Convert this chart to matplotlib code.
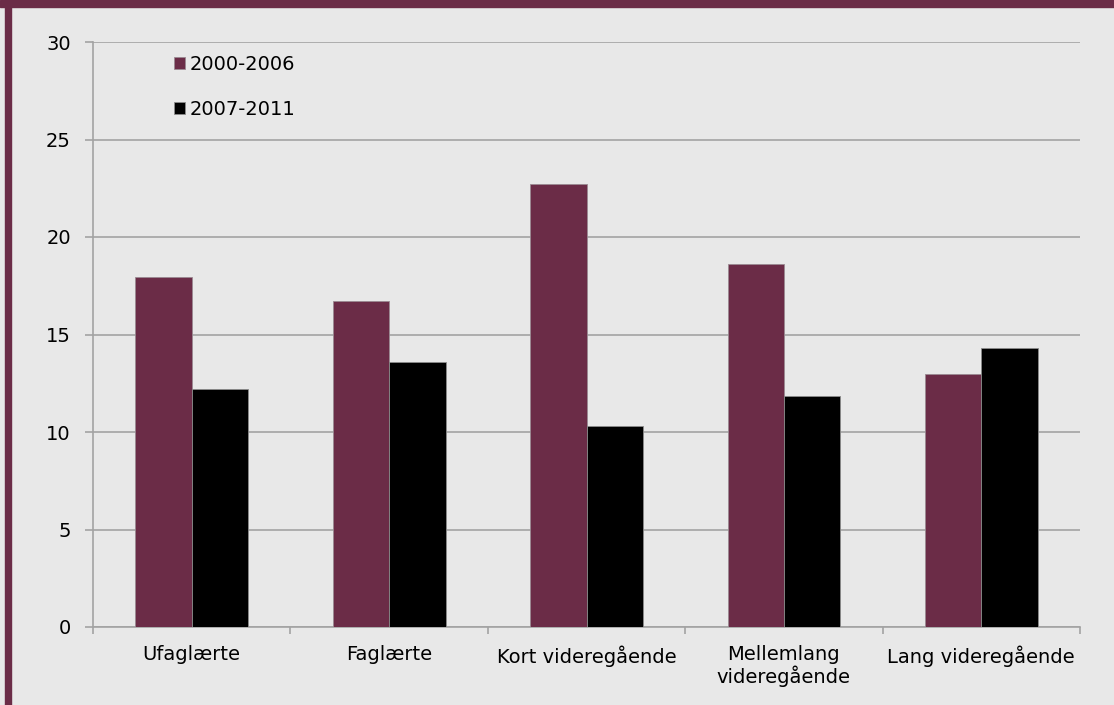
import matplotlib.pyplot as plt
from matplotlib.patches import Rectangle
import numpy as np

# Education groups and the two periods
categories = ["Ufaglærte", "Faglærte", "Kort videregående",
              "Mellemlang\nvideregående", "Lang videregående"]
p2000_2006 = [17.95, 16.7, 22.7, 18.6, 13.0]
p2007_2011 = [12.2, 13.6, 10.3, 11.85, 14.3]
series_labels = ["2000-2006", "2007-2011"]

maroon = "#6B2C47"
bg = "#E8E8E8"
grid_col = "#A3A3A3"

plt.rcParams["font.family"] = "DejaVu Sans"
plt.rcParams["font.size"] = 14

fig = plt.figure(figsize=(11.14, 7.05), dpi=100, facecolor=bg)
ax = fig.add_axes([93 / 1114, 1 - 627 / 705, 987 / 1114, 585 / 705])
ax.set_facecolor(bg)

# frame strips along the top and left edge
fig.patches.append(Rectangle((0, 1 - 7 / 705), 1, 7 / 705, transform=fig.transFigure,
                             color=maroon, zorder=0))
fig.patches.append(Rectangle((5 / 1114, 0), 6 / 1114, 1, transform=fig.transFigure,
                             color=maroon, zorder=0))

x = np.arange(len(categories))
w = 1 / 3.5
ax.bar(x - w / 2, p2000_2006, w, color=maroon, edgecolor="#9A8A92", linewidth=0.6,
       label=series_labels[0], zorder=3)
ax.bar(x + w / 2, p2007_2011, w, color="black", edgecolor="#8C8C8C", linewidth=0.6,
       label=series_labels[1], zorder=3)

ax.set_xlim(-0.5, len(categories) - 0.5)
ax.set_ylim(0, 30)
ax.set_yticks(range(0, 31, 5))
ax.yaxis.grid(True, color=grid_col, linewidth=1.2, zorder=0)
ax.set_axisbelow(True)

ax.set_xticks(x)
ax.set_xticklabels(categories, linespacing=1.1)
ax.set_xticks(np.arange(-0.5, len(categories)), minor=True)
ax.tick_params(axis="x", which="major", length=0, pad=13)
ax.tick_params(axis="x", which="minor", length=5, color=grid_col, width=1.2)
ax.tick_params(axis="y", length=6, color=grid_col, width=1.2, pad=10)

for s in ["top", "right"]:
    ax.spines[s].set_visible(False)
for s in ["left", "bottom"]:
    ax.spines[s].set_color(grid_col)
    ax.spines[s].set_linewidth(1.2)

ax.legend(loc="upper left", bbox_to_anchor=(0.082, 0.978), frameon=False,
          borderpad=0, borderaxespad=0, labelspacing=1.32,
          handlelength=0.58, handleheight=0.58, handletextpad=0.22)

plt.savefig("out.png", dpi=100, facecolor=bg)
